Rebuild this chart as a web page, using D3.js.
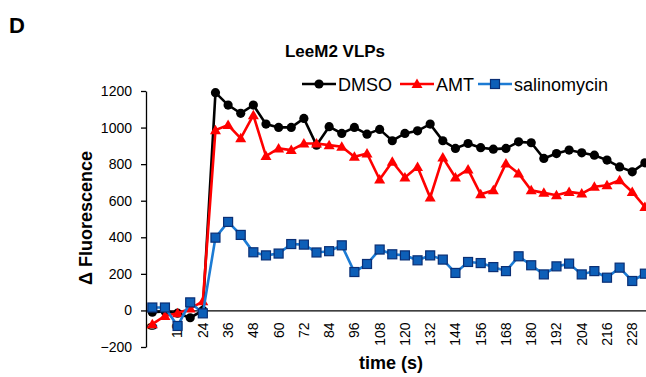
<!DOCTYPE html>
<html>
<head>
<meta charset="utf-8">
<script src="https://cdn.jsdelivr.net/npm/d3@7"></script>
<style>
  body { margin: 0; background: #fff; }
  svg { font-family: "Liberation Sans", Arial, sans-serif; }
</style>
</head>
<body>
<div id="chart"></div>
<script>
// time points (s), one every 6 s
const times = [0, 6, 12, 18, 24, 30, 36, 42, 48, 54, 60, 66, 72, 78, 84, 90, 96, 102, 108, 114,
  120, 126, 132, 138, 144, 150, 156, 162, 168, 174, 180, 186, 192, 198, 204, 210, 216, 222, 228, 234];

const dmso = [-10, -5, -15, -40, 0, 1191, 1123, 1078, 1123, 1019, 1001, 1001, 1050, 904, 1005, 968,
  1001, 964, 990, 928, 968, 982, 1019, 928, 886, 913, 890, 882,
  886, 922, 917, 831, 858, 877, 862, 849, 822, 785, 758, 807];

const amt = [-75, -30, -15, 10, 50, 986, 1014, 941, 1068, 844, 886, 877, 913, 913, 904, 895,
  840, 858, 716, 813, 727, 785, 617, 836, 727, 771, 635, 657,
  804, 749, 657, 643, 630, 648, 639, 676, 685, 712, 648, 566];

const salinomycin = [16, 16, -85, 44, -16, 398, 484, 413, 318, 301, 311, 363, 360, 317, 324, 356,
  210, 254, 333, 307, 301, 274, 301, 278, 205, 265, 259, 237,
  215, 296, 247, 197, 241, 256, 197, 215, 179, 234, 161, 201];

const yTicks = [-200, 0, 200, 400, 600, 800, 1000, 1200];

const series = [
  { name: 'DMSO', values: dmso, color: '#000000', marker: 'circle' },
  { name: 'AMT', values: amt, color: '#ff0000', marker: 'triangle' },
  { name: 'salinomycin', values: salinomycin, color: '#1c7bd4', marker: 'square' }
];

const width = 646, height = 377;
const svg = d3.select('#chart').append('svg')
  .attr('width', width)
  .attr('height', height);

const x = d3.scaleBand()
  .domain(times)
  .range([146, 146 + times.length * 12.63]);

const y = d3.scaleLinear()
  .domain([-200, 1200])
  .range([347, 91]);

const cx = t => x(t) + x.bandwidth() / 2;

// panel letter and title
svg.append('text').attr('x', 9).attr('y', 33)
  .style('font-size', '22px').style('font-weight', 'bold').text('D');
svg.append('text').attr('x', 335).attr('y', 57).attr('text-anchor', 'middle')
  .style('font-size', '17px').style('font-weight', 'bold').text('LeeM2 VLPs');

// y axis
const yAxis = svg.append('g')
  .attr('transform', 'translate(146,0)')
  .call(d3.axisLeft(y).tickValues(yTicks).tickFormat(d3.format('d'))
    .tickSize(5).tickPadding(9).tickSizeOuter(0));
yAxis.select('.domain').attr('stroke', '#000').attr('stroke-width', 1.3);
yAxis.selectAll('.tick line').attr('stroke', '#000').attr('stroke-width', 1.3);
yAxis.selectAll('.tick text').style('font-size', '14px').attr('fill', '#000');

svg.append('text')
  .attr('transform', 'translate(92,218) rotate(-90)')
  .attr('text-anchor', 'middle')
  .style('font-size', '18px').style('font-weight', 'bold')
  .text('\u0394 Fluorescence');

// x axis at y = 0, labels every 12 s
const xAxis = svg.append('g')
  .attr('transform', `translate(0,${y(0)})`)
  .call(d3.axisBottom(x).tickValues(times.filter((t, i) => i % 2 === 0)).tickSize(0).tickSizeOuter(0));
xAxis.select('.domain').attr('stroke', '#000').attr('stroke-width', 1.3);
xAxis.selectAll('.tick text')
  .style('font-size', '14px').attr('fill', '#000')
  .attr('text-anchor', 'end')
  .attr('transform', 'rotate(-90)')
  .attr('x', -12).attr('y', 0).attr('dy', '0.35em');

svg.append('text').attr('x', 391).attr('y', 369).attr('text-anchor', 'middle')
  .style('font-size', '18px').style('font-weight', 'bold').text('time (s)');

// markers
const drawMarker = (g, s, px, py) => {
  if (s.marker === 'circle') {
    g.append('circle').attr('cx', px).attr('cy', py).attr('r', 4.6).attr('fill', '#000');
  } else if (s.marker === 'triangle') {
    g.append('path')
      .attr('d', `M${px},${py - 5.5}L${px + 5.5},${py + 4}L${px - 5.5},${py + 4}Z`)
      .attr('fill', '#ff0000');
  } else {
    g.append('rect').attr('x', px - 4.5).attr('y', py - 4.5).attr('width', 9).attr('height', 9)
      .attr('fill', '#0d5fb8').attr('stroke', '#0a2f75').attr('stroke-width', 1.2);
  }
};

const line = d3.line().x((d, i) => cx(times[i])).y(d => y(d));

series.forEach(s => {
  const g = svg.append('g');
  g.append('path').datum(s.values)
    .attr('d', line)
    .attr('fill', 'none')
    .attr('stroke', s.color)
    .attr('stroke-width', 2.6);
  s.values.forEach((v, i) => drawMarker(g, s, cx(times[i]), y(v)));
});

// legend
const legendX = [302, 400, 478];
series.forEach((s, i) => {
  const g = svg.append('g');
  const lx = legendX[i];
  g.append('line').attr('x1', lx).attr('x2', lx + 34).attr('y1', 84).attr('y2', 84)
    .attr('stroke', s.color).attr('stroke-width', 2.6);
  drawMarker(g, s, lx + 17, 84);
  g.append('text').attr('x', lx + 36).attr('y', 91)
    .style('font-size', '18px').text(s.name);
});
</script>
</body>
</html>
